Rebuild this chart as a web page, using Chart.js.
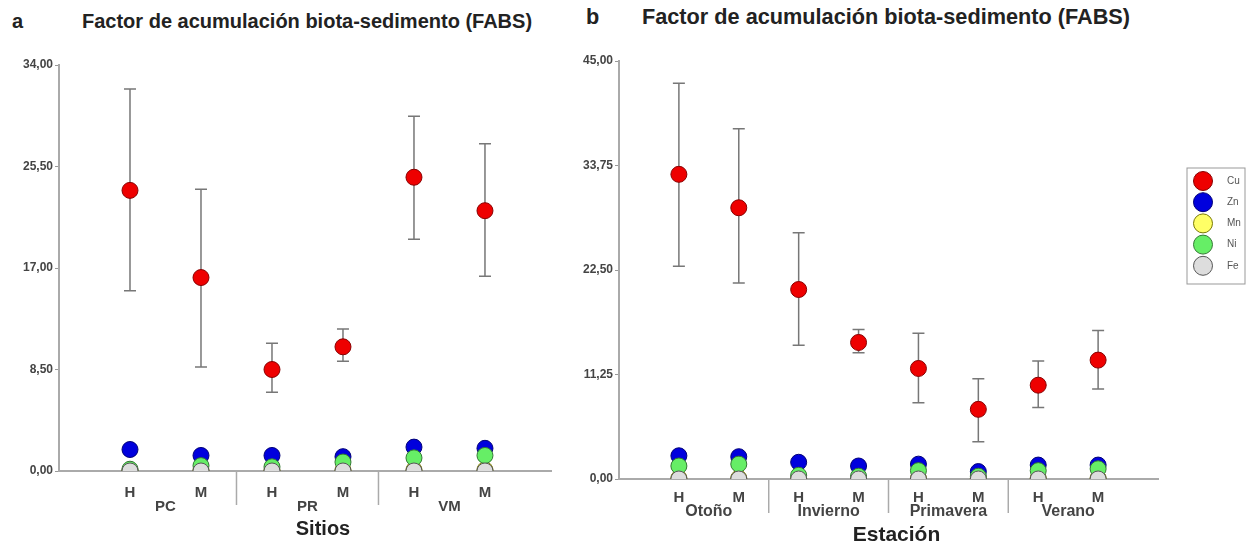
<!DOCTYPE html>
<html>
<head>
<meta charset="utf-8">
<script src="https://cdn.jsdelivr.net/npm/chart.js@4.4.1/dist/chart.umd.min.js"></script>
<style>
  body { margin: 0; background: #fff; width: 1247px; height: 546px; position: relative; overflow: hidden;
         font-family: "Liberation Sans", Arial, sans-serif; }
  canvas { position: absolute; top: 0; }
  #chartA { left: 0; }
  #chartB { left: 560px; }
  .head { position: absolute; font-weight: bold; color: #222; white-space: nowrap; line-height: 1; }
</style>
</head>
<body>
<div class="head" style="left:12px; top:11px; font-size:20px;">a</div>
<div class="head" style="left:82px; top:11px; font-size:20px;">Factor de acumulación biota-sedimento (FABS)</div>
<div class="head" style="left:586px; top:6px; font-size:21.7px;">b</div>
<div class="head" style="left:642px; top:6px; font-size:21.7px;">Factor de acumulación biota-sedimento (FABS)</div>
<canvas id="chartA" width="560" height="546"></canvas>
<canvas id="chartB" width="687" height="546"></canvas>
<script>
// metals, in legend order
var metales = ["Cu", "Zn", "Mn", "Ni", "Fe"];

// panel a: sites, H / M per site
var sitios = ["PC", "PR", "VM"];
var sitiosSub = ["H", "M", "H", "M", "H", "M"];
var sitiosCu = [23.5, 16.2, 8.5, 10.4, 24.6, 21.8];
var sitiosCuLow = [15.1, 8.7, 6.6, 9.2, 19.4, 16.3];
var sitiosCuHigh = [32.0, 23.6, 10.7, 11.9, 29.7, 27.4];
var sitiosZn = [1.8, 1.3, 1.3, 1.2, 2.0, 1.9];
var sitiosMn = [0.05, 0.08, 0.05, 0.08, 0.1, 0.1];
var sitiosNi = [0.15, 0.45, 0.35, 0.75, 1.1, 1.3];
var sitiosFe = [0, 0, 0, 0, 0, 0];
var sitiosTicks = [0, 8.5, 17, 25.5, 34];

// panel b: seasons, H / M per season
var estaciones = ["Otoño", "Invierno", "Primavera", "Verano"];
var estacionSub = ["H", "M", "H", "M", "H", "M", "H", "M"];
var estacionCu = [32.8, 29.2, 20.4, 14.7, 11.9, 7.5, 10.1, 12.8];
var estacionCuLow = [22.9, 21.1, 14.4, 13.6, 8.2, 4.0, 7.7, 9.7];
var estacionCuHigh = [42.6, 37.7, 26.5, 16.1, 15.7, 10.8, 12.7, 16.0];
var estacionZn = [2.5, 2.4, 1.8, 1.4, 1.6, 0.8, 1.5, 1.5];
var estacionMn = [0.1, 0.1, 0.08, 0.08, 0.1, 0.08, 0.1, 0.1];
var estacionNi = [1.4, 1.6, 0.4, 0.3, 0.9, 0.3, 0.9, 1.1];
var estacionFe = [0, 0, 0, 0, 0, 0, 0, 0];
var estacionTicks = [0, 11.25, 22.5, 33.75, 45];

var fills = ["#ee0000", "#0000dd", "#ffff66", "#66ee66", "#dddddd"];
var borders = ["#880000", "#000077", "#777700", "#337733", "#555555"];
var FONT = '"Liberation Sans", Arial, sans-serif';

function fmt(v) {
    return v.toFixed(2).replace(".", ",");
}

// error bars, group labels, separators, axis title and legend
var decor = {
    id: "decor",
    beforeDatasetsDraw: function (chart, args, opts) {
        var ctx = chart.ctx, xs = chart.scales.x, ys = chart.scales.y;
        ctx.save();
        ctx.strokeStyle = "#777";
        ctx.lineWidth = 1.5;
        opts.low.forEach(function (lo, i) {
            var x = xs.getPixelForValue(i + 1);
            var y1 = ys.getPixelForValue(lo), y2 = ys.getPixelForValue(opts.high[i]);
            ctx.beginPath();
            ctx.moveTo(x, y1); ctx.lineTo(x, y2);
            ctx.moveTo(x - 6, y1); ctx.lineTo(x + 6, y1);
            ctx.moveTo(x - 6, y2); ctx.lineTo(x + 6, y2);
            ctx.stroke();
        });
        ctx.restore();
    },
    afterDraw: function (chart, args, opts) {
        var ctx = chart.ctx, xs = chart.scales.x, ys = chart.scales.y;
        var base = ys.getPixelForValue(0);
        ctx.save();
        // separators between groups
        ctx.strokeStyle = "#aaa";
        ctx.lineWidth = 1.5;
        for (var g = 1; g < opts.groups.length; g++) {
            var sx = xs.getPixelForValue(g * 2 + 0.5);
            ctx.beginPath();
            ctx.moveTo(sx, base); ctx.lineTo(sx, base + 34);
            ctx.stroke();
        }
        ctx.fillStyle = "#444";
        ctx.textAlign = "center";
        ctx.textBaseline = "middle";
        ctx.font = "bold " + opts.groupSize + "px " + FONT;
        opts.groups.forEach(function (name, g) {
            ctx.fillText(name, xs.getPixelForValue(g * 2 + 1.5), base + opts.groupOffset);
        });
        ctx.fillStyle = "#222";
        ctx.font = "bold " + opts.titleSize + "px " + FONT;
        ctx.fillText(opts.title, (chart.chartArea.left + chart.chartArea.right) / 2 + opts.titleShift, base + opts.titleOffset);

        if (opts.legend) {
            var lg = opts.legend;
            ctx.strokeStyle = "#999";
            ctx.lineWidth = 1;
            ctx.strokeRect(lg.x, lg.y, lg.w, lg.h);
            ctx.textAlign = "left";
            ctx.font = "10px " + FONT;
            chart.data.datasets.forEach(function (ds, i) {
                var cy = lg.y + 13 + i * 21.2;
                ctx.beginPath();
                ctx.arc(lg.x + 16, cy, 9.5, 0, Math.PI * 2);
                ctx.fillStyle = ds.backgroundColor;
                ctx.fill();
                ctx.strokeStyle = ds.borderColor;
                ctx.stroke();
                ctx.fillStyle = "#555";
                ctx.fillText(ds.label, lg.x + 40, cy);
            });
        }
        ctx.restore();
    }
};

function makeSets(series) {
    return series.map(function (vals, k) {
        return {
            label: metales[k],
            data: vals.map(function (v, i) { return { x: i + 1, y: v }; }),
            backgroundColor: fills[k],
            borderColor: borders[k],
            borderWidth: 1,
            pointRadius: 8,
            order: series.length - 1 - k
        };
    });
}

function makeChart(id, p) {
    return new Chart(document.getElementById(id), {
        type: "scatter",
        data: { datasets: makeSets(p.series) },
        plugins: [decor],
        options: {
            responsive: false,
            animation: false,
            events: [],
            layout: { padding: { top: p.top, right: p.right, left: 0, bottom: 0 } },
            plugins: {
                legend: { display: false },
                tooltip: { enabled: false },
                decor: {
                    low: p.low, high: p.high, groups: p.groups,
                    groupSize: p.groupSize, groupOffset: p.groupOffset,
                    title: p.title, titleSize: p.titleSize, titleOffset: p.titleOffset, titleShift: p.titleShift,
                    legend: p.legend
                }
            },
            scales: {
                x: {
                    type: "linear",
                    min: 0,
                    max: p.xMax,
                    afterBuildTicks: function (axis) {
                        axis.ticks = p.sub.map(function (s, i) { return { value: i + 1 }; });
                    },
                    afterFit: function (axis) { axis.height = p.bottom; },
                    grid: { display: false, drawTicks: false },
                    border: { display: true, color: "#aaa", width: 2 },
                    ticks: {
                        autoSkip: false,
                        maxRotation: 0,
                        padding: p.subPad,
                        color: "#444",
                        font: { family: FONT, size: p.subSize, weight: "bold" },
                        callback: function (v, i) { return p.sub[i]; }
                    }
                },
                y: {
                    min: 0,
                    max: p.ticks[p.ticks.length - 1],
                    afterBuildTicks: function (axis) {
                        axis.ticks = p.ticks.map(function (v) { return { value: v }; });
                    },
                    afterFit: function (axis) { axis.width = p.axisLeft; },
                    grid: { display: true, drawOnChartArea: false, drawTicks: true, tickLength: 4, color: "#999" },
                    border: { display: true, color: "#aaa", width: 2 },
                    ticks: {
                        padding: 2,
                        color: "#444",
                        font: { family: FONT, size: 12, weight: "bold" },
                        callback: function (v) { return fmt(v); }
                    }
                }
            }
        }
    });
}

makeChart("chartA", {
    series: [sitiosCu, sitiosZn, sitiosMn, sitiosNi, sitiosFe],
    low: sitiosCuLow, high: sitiosCuHigh,
    sub: sitiosSub, groups: sitios, ticks: sitiosTicks,
    xMax: 6.93, top: 65, right: 3, bottom: 75, axisLeft: 59,
    subPad: 13, subSize: 15, groupSize: 15, groupOffset: 36,
    title: "Sitios", titleSize: 20, titleOffset: 58, titleShift: 18
});

makeChart("chartB", {
    series: [estacionCu, estacionZn, estacionMn, estacionNi, estacionFe],
    low: estacionCuLow, high: estacionCuHigh,
    sub: estacionSub, groups: estaciones, ticks: estacionTicks,
    xMax: 9, top: 61, right: 89, bottom: 67, axisLeft: 59,
    subPad: 10, subSize: 15, groupSize: 16, groupOffset: 33,
    title: "Estación", titleSize: 21, titleOffset: 56, titleShift: 8,
    legend: { x: 627, y: 168, w: 58, h: 116 }
});
</script>
</body>
</html>
